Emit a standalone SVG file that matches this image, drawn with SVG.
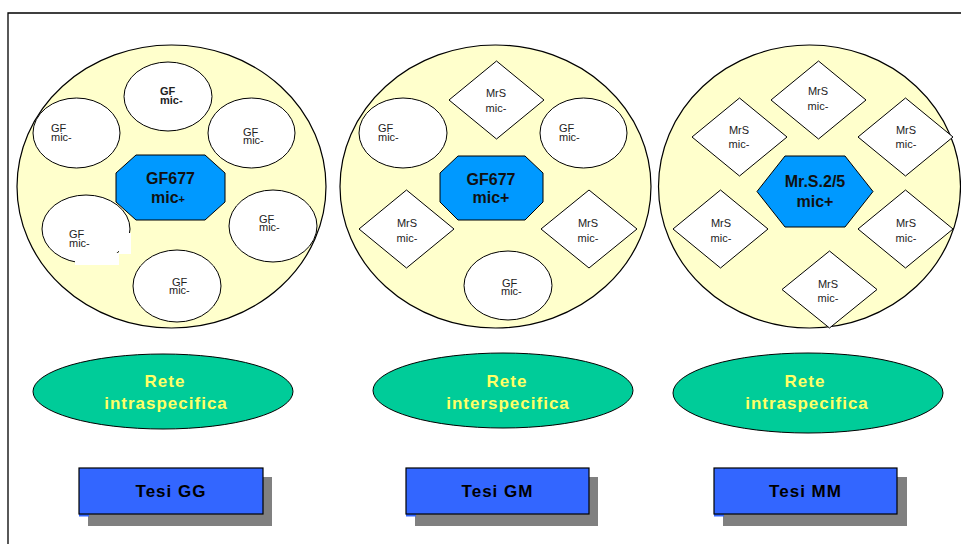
<svg xmlns="http://www.w3.org/2000/svg" width="961" height="544" viewBox="0 0 961 544">
  <style>
    .frame { fill: none; stroke: #000; stroke-width: 1.3; }
    .pool { fill: #ffffcc; stroke: #000; stroke-width: 1.2; }
    .plant { fill: #fff; stroke: #000; stroke-width: 1; }
    .core { fill: #0099ff; stroke: #000; stroke-width: 1; }
    .net { fill: #00cc99; stroke: #000; stroke-width: 1; }
    .thesis { fill: #3366ff; stroke: #000; stroke-width: 1.2; }
    .shadow { fill: #808080; }
    text { font-family: "Liberation Sans", Arial, sans-serif; }
    .lbl { font-size: 11px; fill: #222; }
    .lblc { font-size: 11px; fill: #222; text-anchor: middle; }
    .core-t { font-size: 16px; font-weight: bold; fill: #111; text-anchor: middle; }
    .net-t { font-size: 17px; font-weight: bold; fill: #ffff66; text-anchor: middle; letter-spacing: 1px; }
    .thesis-t { font-size: 17px; font-weight: bold; fill: #000; text-anchor: middle; letter-spacing: 1px; }
  </style>

  <!-- page frame -->
  <path class="frame" d="M8,544 V13 H961"/>

  <!-- connectors: none drawn in this figure -->
  <g id="connectors"/>

  <!-- Pool 1: GF677 with GF neighbours -->
  <g id="pool-gg">
    <ellipse class="pool" cx="171.5" cy="186.5" rx="154.5" ry="141.5"/>
    <g id="gg-core">
      <polygon class="core" points="136,155 205,155 225,173 225,202 205,220 136,220 116,202 116,173"/>
      <text class="core-t" x="170.5" y="184">GF677</text>
      <text class="core-t" x="168" y="203">mic<tspan font-size="11">+</tspan></text>
    </g>
    <g id="gg-n1">
      <ellipse class="plant" cx="168" cy="96.5" rx="44" ry="34.5"/>
      <text class="lbl" font-weight="bold" x="160" y="95">GF</text>
      <text class="lbl" font-weight="bold" x="160" y="104">mic-</text>
    </g>
    <g id="gg-n2">
      <ellipse class="plant" cx="76.5" cy="133" rx="43.5" ry="35"/>
      <text class="lbl" x="51" y="132">GF</text>
      <text class="lbl" x="51" y="141">mic-</text>
    </g>
    <g id="gg-n3">
      <ellipse class="plant" cx="251.5" cy="133" rx="43.5" ry="35"/>
      <text class="lbl" x="243" y="136">GF</text>
      <text class="lbl" x="243" y="144">mic-</text>
    </g>
    <g id="gg-n4">
      <ellipse class="plant" cx="86" cy="229" rx="44" ry="34"/>
      <polygon fill="#fff" points="75,253 119,253 119,233 131,233 131,254 119,254 119,265 75,265"/>
      <text class="lbl" x="69" y="238">GF</text>
      <text class="lbl" x="69" y="247">mic-</text>
    </g>
    <g id="gg-n5">
      <ellipse class="plant" cx="273" cy="226" rx="44" ry="36"/>
      <text class="lbl" x="259" y="223">GF</text>
      <text class="lbl" x="259" y="231">mic-</text>
    </g>
    <g id="gg-n6">
      <ellipse class="plant" cx="177" cy="286" rx="44" ry="36"/>
      <text class="lbl" x="172" y="286">GF</text>
      <text class="lbl" x="169" y="294">mic-</text>
    </g>
  </g>

  <!-- Pool 2: GF677 with mixed neighbours -->
  <g id="pool-gm">
    <ellipse class="pool" cx="495.5" cy="186.5" rx="155.5" ry="141.5"/>
    <g id="gm-core">
      <polygon class="core" points="458,156 525,156 543,173 543,202 525,220 458,220 440,202 440,173"/>
      <text class="core-t" x="491" y="185">GF677</text>
      <text class="core-t" x="491" y="203">mic+</text>
    </g>
    <g id="gm-n1">
      <polygon class="plant" points="449,100 496.5,61 544,100 496.5,139"/>
      <text class="lblc" x="496" y="97">MrS</text>
      <text class="lblc" x="496" y="112">mic-</text>
    </g>
    <g id="gm-n2">
      <ellipse class="plant" cx="403" cy="133" rx="44" ry="35"/>
      <text class="lbl" x="378" y="132">GF</text>
      <text class="lbl" x="378" y="141">mic-</text>
    </g>
    <g id="gm-n3">
      <ellipse class="plant" cx="583.5" cy="133" rx="43.5" ry="35"/>
      <text class="lbl" x="559" y="132">GF</text>
      <text class="lbl" x="559" y="141">mic-</text>
    </g>
    <g id="gm-n4">
      <polygon class="plant" points="359,229 406.5,190 454,229 406.5,268"/>
      <text class="lblc" x="407" y="227">MrS</text>
      <text class="lblc" x="407" y="242">mic-</text>
    </g>
    <g id="gm-n5">
      <polygon class="plant" points="541,229 589,190 637,229 589,268"/>
      <text class="lblc" x="588" y="227">MrS</text>
      <text class="lblc" x="588" y="242">mic-</text>
    </g>
    <g id="gm-n6">
      <ellipse class="plant" cx="508" cy="285.5" rx="44" ry="34.5"/>
      <text class="lbl" x="502" y="287">GF</text>
      <text class="lbl" x="501" y="295">mic-</text>
    </g>
  </g>

  <!-- Pool 3: Mr.S.2/5 with MrS neighbours -->
  <g id="pool-mm">
    <ellipse class="pool" cx="809.5" cy="186.5" rx="151" ry="141.5"/>
    <g id="mm-core">
      <polygon class="core" points="785,156 845,156 873,191.5 845,227 785,227 757,191.5"/>
      <text class="core-t" x="815" y="187">Mr.S.2/5</text>
      <text class="core-t" x="815" y="207">mic+</text>
    </g>
    <g id="mm-n1">
      <polygon class="plant" points="771,100 818.5,61 866,100 818.5,139"/>
      <text class="lblc" x="818" y="95">MrS</text>
      <text class="lblc" x="818" y="110">mic-</text>
    </g>
    <g id="mm-n2">
      <polygon class="plant" points="692,137 739.5,98 787,137 739.5,176"/>
      <text class="lblc" x="739" y="134">MrS</text>
      <text class="lblc" x="739" y="148">mic-</text>
    </g>
    <g id="mm-n3">
      <polygon class="plant" points="858,137 905.5,98 953,137 905.5,176"/>
      <text class="lblc" x="906" y="134">MrS</text>
      <text class="lblc" x="906" y="148">mic-</text>
    </g>
    <g id="mm-n4">
      <polygon class="plant" points="673,229 720.5,190 768,229 720.5,268"/>
      <text class="lblc" x="721" y="227">MrS</text>
      <text class="lblc" x="721" y="242">mic-</text>
    </g>
    <g id="mm-n5">
      <polygon class="plant" points="858,229 905.5,190 953,229 905.5,268"/>
      <text class="lblc" x="906" y="227">MrS</text>
      <text class="lblc" x="906" y="242">mic-</text>
    </g>
    <g id="mm-n6">
      <polygon class="plant" points="782,289.5 829.5,251 877,289.5 829.5,328"/>
      <text class="lblc" x="828" y="288">MrS</text>
      <text class="lblc" x="828" y="302">mic-</text>
    </g>
  </g>

  <!-- network type labels -->
  <g id="net-gg">
    <ellipse class="net" cx="163" cy="391.5" rx="130" ry="37.5"/>
    <text class="net-t" x="165" y="387">Rete</text>
    <text class="net-t" x="166" y="409">intraspecifica</text>
  </g>
  <g id="net-gm">
    <ellipse class="net" cx="503" cy="390.5" rx="130" ry="37.5"/>
    <text class="net-t" x="507" y="387">Rete</text>
    <text class="net-t" x="508" y="409">interspecifica</text>
  </g>
  <g id="net-mm">
    <ellipse class="net" cx="808" cy="393" rx="135" ry="40"/>
    <text class="net-t" x="805" y="387">Rete</text>
    <text class="net-t" x="807" y="409">intraspecifica</text>
  </g>

  <!-- thesis boxes with drop shadow -->
  <g id="tesi-gg">
    <rect class="shadow" x="88" y="477" width="184" height="49"/>
    <rect fill="#3366ff" x="79" y="514" width="10" height="2.5"/>
    <rect class="thesis" x="79" y="468" width="184" height="46"/>
    <text class="thesis-t" x="171" y="497">Tesi GG</text>
  </g>
  <g id="tesi-gm">
    <rect class="shadow" x="415" y="477" width="183" height="49"/>
    <rect fill="#3366ff" x="406" y="514" width="10" height="2.5"/>
    <rect class="thesis" x="406" y="468" width="183" height="46"/>
    <text class="thesis-t" x="497.5" y="497">Tesi GM</text>
  </g>
  <g id="tesi-mm">
    <rect class="shadow" x="723" y="477" width="184" height="49"/>
    <rect fill="#3366ff" x="714" y="514" width="10" height="2.5"/>
    <rect class="thesis" x="714" y="468" width="183" height="46"/>
    <text class="thesis-t" x="805.5" y="497">Tesi MM</text>
  </g>
</svg>
